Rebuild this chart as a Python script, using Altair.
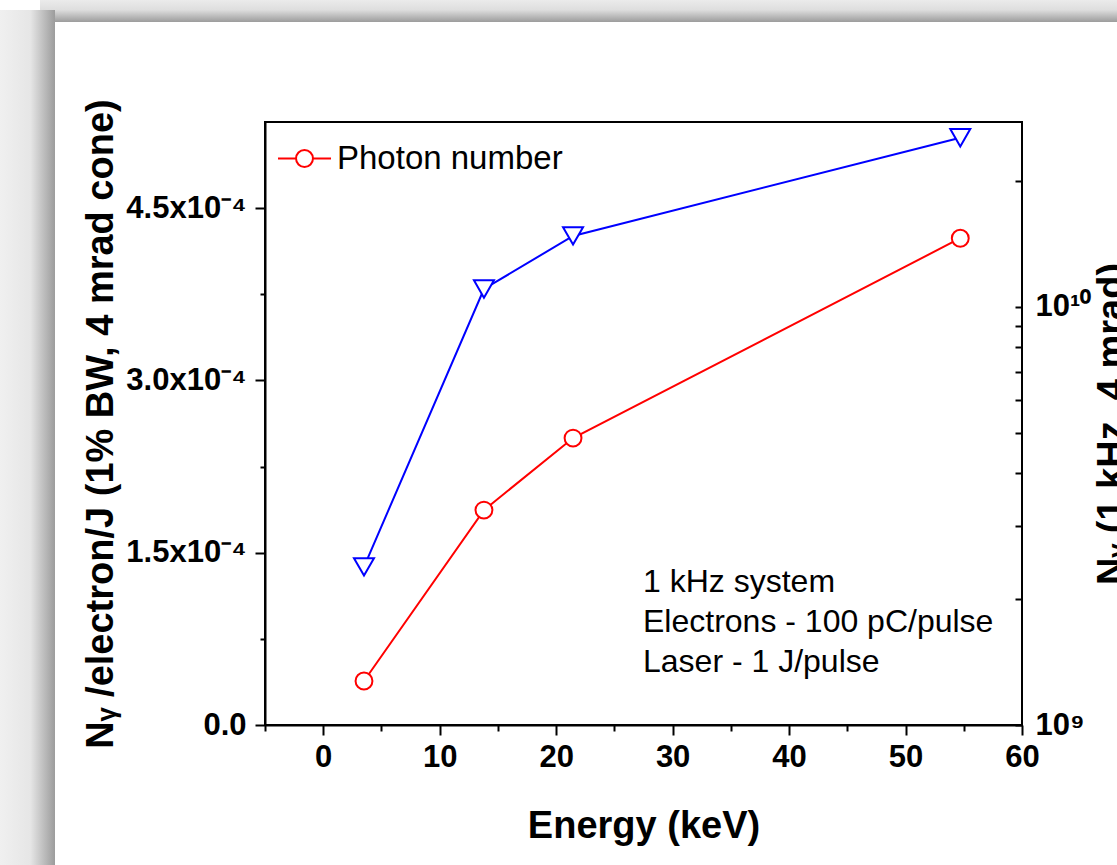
import altair as alt
import pandas as pd

# ---------------- data ----------------
energy_kev = [3.5, 13.8, 21.45, 54.7]
photon_per_electron_j = [0.383e-4, 1.871e-4, 2.498e-4, 4.238e-4]   # red circles, left axis
photon_1khz = [2.39e9, 1.104e10, 1.479e10, 2.54e10]                # blue triangles, right log axis
series_name = ["Photon number"] * 4
note_lines = ["1 kHz system", "Electrons - 100 pC/pulse", "Laser - 1 J/pulse"]

x_ticks = [-5, 0, 5, 10, 15, 20, 25, 30, 35, 40, 45, 50, 55, 60]
y_left_ticks = [0, 0.75e-4, 1.5e-4, 2.25e-4, 3.0e-4, 3.75e-4, 4.5e-4]
y_right_ticks = [1e9, 2e9, 3e9, 4e9, 5e9, 6e9, 7e9, 8e9, 9e9, 1e10, 2e10]

df = pd.DataFrame({
    "energy": energy_kev,
    "per_e": photon_per_electron_j,
    "flux": photon_1khz,
    "series": series_name,
})

FONT = "Liberation Sans"
W, H = 757, 603
RED = "#ff0000"
BLUE = "#0000ff"

# ---------------- axes ----------------
x_axis = alt.Axis(
    title="Energy (keV)", values=x_ticks, format="d",
    labelExpr="datum.value % 10 == 0 ? datum.label : ''",
    tickSize={"condition": {"test": "datum.value % 10 != 0", "value": 6}, "value": 10},
    tickWidth=2, tickColor="black", domainColor="black", domainWidth=2,
    labelFont=FONT, labelFontWeight="bold", labelFontSize=31, labelColor="black",
    labelPadding=7, labelFlush=False, labelOverlap=False,
    titleFont=FONT, titleFontWeight="bold", titleFontSize=38, titleColor="black",
    titleX=W / 2, titleY=112, titleBaseline="alphabetic", titleAlign="center",
    grid=False,
)

minor_test = "abs(datum.value/0.00015 - round(datum.value/0.00015)) > 0.01"
y_left_axis = alt.Axis(
    title="Nᵧ /electron/J (1% BW, 4 mrad cone)", values=y_left_ticks,
    labelExpr=minor_test + " ? '' : (datum.value < 1e-9 ? '0.0' : format(datum.value*10000, '.1f') + 'x10⁻⁴')",
    tickSize={"condition": {"test": minor_test, "value": 5}, "value": 10},
    tickWidth=2, tickColor="black", domainColor="black", domainWidth=2,
    labelFont=FONT, labelFontWeight="bold", labelFontSize=31, labelColor="black",
    labelPadding=9, labelFlush=False, labelOverlap=False,
    titleFont=FONT, titleFontWeight="bold", titleFontSize=38, titleColor="black",
    titleX=-153, titleY=H / 2, titleAngle=270, titleBaseline="alphabetic", titleAlign="center",
    grid=False,
)

y_right_axis = alt.Axis(
    title="Nᵧ (1 kHz, 4 mrad)", orient="right", values=y_right_ticks,
    labelExpr="datum.value == 1e9 ? '10⁹' : (datum.value == 1e10 ? '10¹⁰' : '')",
    offset=-7, domain=False, tickSize=7, tickWidth=2, tickColor="black",
    labelFont=FONT, labelFontWeight="bold", labelFontSize=31, labelColor="black",
    labelPadding=13, labelFlush=False, labelOverlap=False,
    titleFont=FONT, titleFontWeight="bold", titleFontSize=38, titleColor="black",
    titleX=108, titleY=H / 2, titleAngle=270, titleBaseline="alphabetic", titleAlign="center",
    grid=False,
)

x_enc = alt.X("energy:Q", scale=alt.Scale(domain=[-5, 60], nice=False, zero=False), axis=x_axis)
y_left = alt.Y("per_e:Q", scale=alt.Scale(domain=[0, 5.25e-4], nice=False), axis=y_left_axis)
y_right = alt.Y("flux:Q", scale=alt.Scale(type="log", domain=[1e9, 2.77e10], nice=False), axis=y_right_axis)

# ---------------- slide frame (outside the plot area) ----------------
top_grad = alt.LinearGradient(
    gradient="linear", x1=0, y1=0, x2=0, y2=1,
    stops=[alt.GradientStop(offset=0, color="#ebebeb"),
           alt.GradientStop(offset=0.45, color="#dedede"),
           alt.GradientStop(offset=1, color="#9c9c9c")],
)
left_grad = alt.LinearGradient(
    gradient="linear", x1=0, y1=0, x2=1, y2=0,
    stops=[alt.GradientStop(offset=0, color="#f0f0f0"),
           alt.GradientStop(offset=0.55, color="#e6e6e6"),
           alt.GradientStop(offset=1, color="#9c9c9c")],
)
blank = alt.Data(values=[{}])
top_strip = alt.Chart(blank).mark_rect(color=top_grad).encode(
    x=alt.value(-225), x2=alt.value(852), y=alt.value(-122), y2=alt.value(-100))
left_strip = alt.Chart(blank).mark_rect(color=left_grad).encode(
    x=alt.value(-265), x2=alt.value(-210), y=alt.value(-112), y2=alt.value(743))

# ---------------- data layers ----------------
legend_path = ("M-1,0L-0.32,0M0.32,0L1,0"
               "M-0.32,0A0.32,0.32,0,1,0,0.32,0A0.32,0.32,0,1,0,-0.32,0Z")
red_line = alt.Chart(df).mark_line(strokeWidth=2).encode(
    x=x_enc, y=y_left,
    color=alt.Color("series:N", scale=alt.Scale(domain=["Photon number"], range=[RED]),
                    legend=alt.Legend(
                        title=None, orient="none", legendX=12, legendY=9, padding=0,
                        symbolType=legend_path, symbolSize=2809, symbolStrokeWidth=2,
                        symbolStrokeColor=RED, symbolFillColor="transparent",
                        labelFont=FONT, labelFontSize=33, labelColor="black",
                        labelOffset=5, labelLimit=600)),
)
red_pts = alt.Chart(df).mark_point(shape="circle", size=285, fill="white", stroke=RED,
                                   strokeWidth=2, opacity=1, fillOpacity=1).encode(x=x_enc, y=y_left)
left_group = alt.layer(red_line, red_pts)

blue_line = alt.Chart(df).mark_line(strokeWidth=2, color=BLUE).encode(x=x_enc, y=y_right)
blue_pts = alt.Chart(df).mark_point(shape="triangle-down", size=400, fill="white", stroke=BLUE,
                                    strokeWidth=2, opacity=1, fillOpacity=1).encode(x=x_enc, y=y_right)
right_group = alt.layer(blue_line, blue_pts)

note = alt.Chart(blank).mark_text(
    text=note_lines, align="left", baseline="middle", font=FONT, fontSize=32,
    lineHeight=40, color="black").encode(x=alt.value(378), y=alt.value(460))

chart = alt.layer(top_strip, left_strip, left_group, right_group, note).resolve_scale(
    y="independent").properties(
    width=W, height=H,
    padding={"left": 265, "top": 122, "right": 95, "bottom": 140},
    autosize=alt.AutoSizeParams(type="none"),
    background="white",
).configure_view(stroke="black", strokeWidth=2)

chart.save("out.html", embed_options={"renderer": "svg", "actions": False})
